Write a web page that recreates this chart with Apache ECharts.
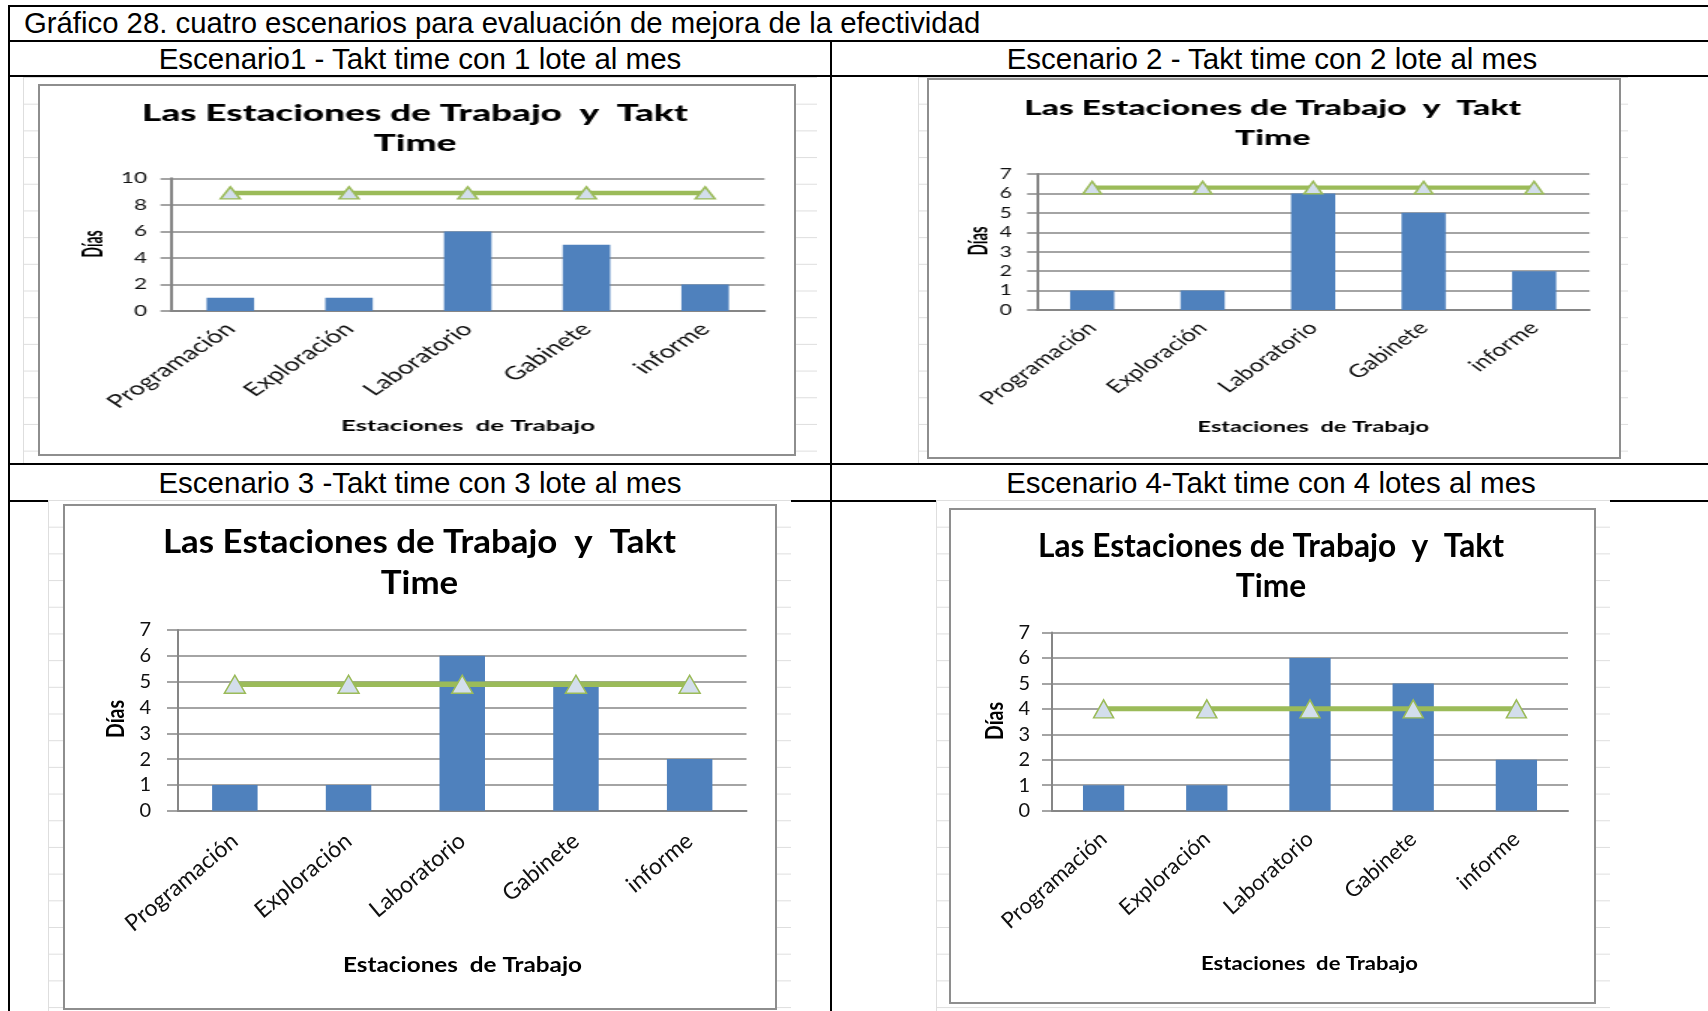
<!DOCTYPE html>
<html lang="es">
<head>
<meta charset="UTF-8">
<title>Gráfico 28. cuatro escenarios</title>
<script src="https://cdn.jsdelivr.net/npm/echarts@6/dist/echarts.min.js"></script>
<style>
    html, body { margin: 0; padding: 0; background: #fff; }
    body {
        width: 1708px; height: 1011px;
        position: relative; overflow: hidden;
        font-family: "Liberation Sans", Arial, sans-serif;
    }
    .linea { position: absolute; background: #000; }
    .hoja {
        position: absolute;
        background-color: #fff;
        background-image:
            linear-gradient(#dedede 1px, transparent 1px),
            linear-gradient(90deg, #dedede 1px, transparent 1px);
        background-size: 61px 26.7px;
    }
    .marco {
        position: absolute;
        background: #fff;
        box-shadow: inset 0 0 0 2px #8e8e8e;
        overflow: hidden;
    }
    .marco > div { position: absolute; left: 0; top: 0; transform-origin: 0 0; }
    .txt {
        position: absolute;
        font-size: 29px; line-height: 29px;
        white-space: nowrap; color: #000;
    }
</style>
</head>
<body>
<script>
    // datos
    const tituloTabla = 'Gráfico 28. cuatro escenarios para evaluación de mejora de la efectividad';
    const subtitulos = [
        'Escenario1 - Takt time con 1 lote al mes',
        'Escenario 2 - Takt time con 2 lote al mes',
        'Escenario 3 -Takt time con 3 lote al mes',
        'Escenario 4-Takt time con 4 lotes al mes'
    ];
    const estaciones = ['Programación', 'Exploración', 'Laboratorio', 'Gabinete', 'informe'];
    const dias = [1, 1, 6, 5, 2];
    const taktE1 = [8.9, 8.9, 8.9, 8.9, 8.9];
    const taktE2 = [6.3, 6.3, 6.3, 6.3, 6.3];
    const taktE3 = [4.9, 4.9, 4.9, 4.9, 4.9];
    const taktE4 = [4, 4, 4, 4, 4];
    const yMaximo = [10, 7, 7, 7];
    const yPaso = [2, 1, 1, 1];
    const tituloGrafico = ['Las Estaciones de Trabajo  y  Takt', 'Time'];
    const nombreEjeX = 'Estaciones  de Trabajo';
    const nombreEjeY = 'Días';
    const takts = [taktE1, taktE2, taktE3, taktE4];

    // disposición (coordenadas de la página)
    const lineasH = [[9, 5, 1708], [9, 40, 1708], [9, 75, 1708], [9, 463, 1708], [9, 500, 1708]];
    const lineasV = [[8, 5, 1011], [830, 40, 1011]];
    const hojas = [[23, 77, 817, 463], [918, 77, 1628, 463], [48, 500, 791, 1011], [936, 500, 1610, 1011]];
    const cajas = [
        { marco: [38, 84, 796, 456], esc: [1.5, 1], area: [171, 178.3, 764.5, 311],
          tit: { cx: 415, cy: [113.5, 143.5], ancho: 546, size: 22, peso: 900 },
          nx: { cx: 468, cy: 426, ancho: 254, size: 15 },
          ny: { cx: 92.6, cy: 244, largo: 27, size: 19 },
          ejeY: { margen: 16, tick: 7, size: 15 }, ejeX: { rot: 45, margen: 15, size: 18.5 },
          grosor: 4.5, marca: [13, 12], sub: { cx: 420, cy: 58.8, ancho: 523 } },
        { marco: [927, 78, 1621, 459], esc: [1.4, 1], area: [1036.7, 174, 1588, 310],
          tit: { cx: 1272, cy: [108, 138.3], ancho: 496, size: 21, peso: 900 },
          nx: { cx: 1312.5, cy: 427, ancho: 231, size: 15 },
          ny: { cx: 979, cy: 241, largo: 29, size: 19 },
          ejeY: { margen: 18, tick: 7, size: 15 }, ejeX: { rot: 45, margen: 15, size: 18 },
          grosor: 4.3, marca: [13, 12.5], sub: { cx: 1271.5, cy: 58.8, ancho: 531 } },
        { marco: [63, 504, 777, 1010], esc: [1, 1], area: [178, 630, 746.5, 810.7],
          tit: { cx: 419.5, cy: [542.5, 583.5], ancho: 513, size: 33, peso: 'bold' },
          nx: { cx: 462.5, cy: 965, ancho: 239, size: 20.5 },
          ny: { cx: 116.5, cy: 719, largo: 38, size: 24 },
          ejeY: { margen: 27, tick: 11, size: 20 }, ejeX: { rot: 40, margen: 27, size: 23 },
          grosor: 5.5, marca: [21, 18], sub: { cx: 420, cy: 482.6, ancho: 523 } },
        { marco: [949, 508, 1596, 1004], esc: [1, 1], area: [1052, 632.5, 1568, 810.7],
          tit: { cx: 1271, cy: [546.5, 586.5], ancho: 466, size: 32, peso: 'bold' },
          nx: { cx: 1309.5, cy: 964, ancho: 217, size: 19.5 },
          ny: { cx: 995.6, cy: 721, largo: 38, size: 24 },
          ejeY: { margen: 22, tick: 10, size: 20 }, ejeX: { rot: 42, margen: 25, size: 22 },
          grosor: 5, marca: [20, 18], sub: { cx: 1271, cy: 482.6, ancho: 530 } }
    ];

    const fuente = 'Lato, "Open Sans", sans-serif';
    const ctx = document.createElement('canvas').getContext('2d');
    function medir(font, texto) { ctx.font = font; return ctx.measureText(texto).width; }

    function div(clase, css) {
        const d = document.createElement('div');
        d.className = clase;
        Object.assign(d.style, css);
        document.body.appendChild(d);
        return d;
    }

    lineasH.forEach(([x0, y, x1]) => div('linea', { left: x0 + 'px', top: y + 'px', width: (x1 - x0) + 'px', height: '2px' }));
    lineasV.forEach(([x, y0, y1]) => div('linea', { left: x + 'px', top: y0 + 'px', width: '2px', height: (y1 - y0) + 'px' }));
    hojas.forEach(([l, t, r, b]) => div('hoja', { left: l + 'px', top: t + 'px', width: (r - l) + 'px', height: (b - t) + 'px' }));

    // textos de la tabla, ajustados al ancho del original
    function textoTabla(texto, x, cy, ancho, centrado) {
        const d = div('txt', { left: x + 'px', top: (cy - 14.1) + 'px' });
        d.textContent = texto;
        const k = ancho / d.offsetWidth;
        d.style.transformOrigin = centrado ? 'center' : 'left';
        d.style.transform = (centrado ? 'translateX(-50%) ' : '') + 'scaleX(' + k + ')';
    }
    textoTabla(tituloTabla, 24, 22.9, 956, false);

    cajas.forEach((c, i) => {
        textoTabla(subtitulos[i], c.sub.cx, c.sub.cy, c.sub.ancho, true);

        const [L, T, R, B] = c.marco;
        const [sx, sy] = c.esc;
        const W = (R - L) / sx, H = (B - T) / sy;
        const m = div('marco', { left: L + 'px', top: T + 'px', width: (R - L) + 'px', height: (B - T) + 'px' });
        const inner = document.createElement('div');
        inner.style.width = W + 'px';
        inner.style.height = H + 'px';
        inner.style.transform = 'scale(' + sx + ',' + sy + ')';
        m.appendChild(inner);

        const px = x => (x - L) / sx;
        const py = y => (y - T) / sy;

        const fTit = c.tit.peso + ' ' + c.tit.size + 'px ' + fuente;
        const kTit = c.tit.ancho / (medir(fTit, tituloGrafico[0]) * sx);
        const fNx = 'bold ' + c.nx.size + 'px ' + fuente;
        const kNx = c.nx.ancho / (medir(fNx, nombreEjeX) * sx);
        const fNy = 'bold ' + c.ny.size + 'px ' + fuente;
        const kNy = c.ny.largo / (medir(fNy, nombreEjeY) * sy);

        const texto = (t, x, y, font, k, rot) => ({
            type: 'text', x: x, y: y, scaleX: k, rotation: rot || 0, silent: true,
            style: { text: t, font: font, fill: '#000', align: 'center', verticalAlign: 'middle',
                     textAlign: 'center', textVerticalAlign: 'middle' }
        });

        const chart = echarts.init(inner, null, { width: W, height: H });
        chart.setOption({
            animation: false,
            grid: {
                left: px(c.area[0]), top: py(c.area[1]),
                right: (R - c.area[2]) / sx, bottom: (B - c.area[3]) / sy
            },
            graphic: [
                texto(tituloGrafico[0], px(c.tit.cx), py(c.tit.cy[0]), fTit, kTit),
                texto(tituloGrafico[1], px(c.tit.cx), py(c.tit.cy[1]), fTit, kTit),
                texto(nombreEjeX, px(c.nx.cx), py(c.nx.cy), fNx, kNx),
                texto(nombreEjeY, px(c.ny.cx), py(c.ny.cy), fNy, kNy, Math.PI / 2)
            ],
            xAxis: {
                type: 'category',
                data: estaciones,
                axisLine: { lineStyle: { color: '#868686', width: 2 } },
                axisTick: { show: false },
                axisLabel: { interval: 0, rotate: c.ejeX.rot, margin: c.ejeX.margen,
                             fontFamily: fuente, fontSize: c.ejeX.size, color: '#111' }
            },
            yAxis: {
                type: 'value',
                min: 0, max: yMaximo[i], interval: yPaso[i],
                axisLine: { show: true, lineStyle: { color: '#868686', width: 2 } },
                axisTick: { show: true, length: c.ejeY.tick, lineStyle: { color: '#868686', width: 1.5 } },
                splitLine: { lineStyle: { color: '#868686', width: 1.5 } },
                axisLabel: { margin: c.ejeY.margen, fontFamily: fuente, fontSize: c.ejeY.size, color: '#111' }
            },
            series: [
                { type: 'bar', data: dias, barWidth: '40%', itemStyle: { color: '#4f81bd' }, z: 2 },
                { type: 'line', data: takts[i], symbol: 'triangle', symbolSize: c.marca,
                  lineStyle: { color: '#9bbb59', width: c.grosor },
                  itemStyle: { color: '#d3deec', borderColor: '#9bbb59', borderWidth: 1.5 }, z: 3 }
            ]
        });
    });
</script>
</body>
</html>
